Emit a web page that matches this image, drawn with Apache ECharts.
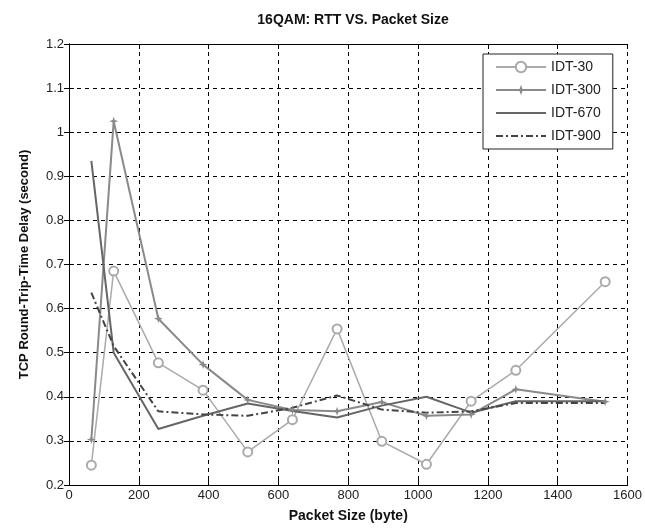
<!DOCTYPE html>
<html><head><meta charset="utf-8">
<script src="https://cdn.jsdelivr.net/npm/echarts@6/dist/echarts.min.js"></script>
<style>html,body{margin:0;padding:0;background:#fff}#c{width:645px;height:532px}</style>
</head><body><div id="c"></div>
<script>
const packetSizes = [64, 128, 256, 384, 512, 640, 768, 896, 1024, 1152, 1280, 1536];
const idt30  = [0.245, 0.685, 0.477, 0.415, 0.275, 0.348, 0.554, 0.299, 0.247, 0.390, 0.460, 0.661];
const idt300 = [0.303, 1.025, 0.577, 0.473, 0.393, 0.370, 0.367, 0.388, 0.357, 0.360, 0.417, 0.389];
const idt670 = [0.935, 0.500, 0.327, 0.357, 0.385, 0.368, 0.353, 0.380, 0.400, 0.364, 0.390, 0.390];
const idt900 = [0.636, 0.515, 0.367, 0.360, 0.357, 0.375, 0.403, 0.371, 0.364, 0.367, 0.386, 0.386];
const xTicks = [0, 200, 400, 600, 800, 1000, 1200, 1400, 1600];
const yTicks = [0.2, 0.3, 0.4, 0.5, 0.6, 0.7, 0.8, 0.9, 1, 1.1, 1.2];
const seriesNames = ['IDT-30', 'IDT-300', 'IDT-670', 'IDT-900'];

const pair = arr => packetSizes.map((x, i) => [x, arr[i]]);
const font = 'Liberation Sans, Arial, sans-serif';
const chart = echarts.init(document.getElementById('c'), null, {renderer: 'canvas'});
const starPath = 'path://M0,-10 L2.5,-2.5 L10,0 L2.5,2.5 L0,10 L-2.5,2.5 L-10,0 L-2.5,-2.5 Z';

const baseX = {
  type: 'value', min: xTicks[0], max: xTicks[xTicks.length - 1], interval: 200,
  axisLine: {show: true, lineStyle: {color: '#000', width: 1}},
  axisTick: {show: true, inside: true, length: 5, lineStyle: {color: '#000'}},
  splitLine: {show: false}
};
const baseY = {
  type: 'value', min: yTicks[0], max: yTicks[yTicks.length - 1], interval: 0.1,
  axisLine: {show: true, lineStyle: {color: '#000', width: 1}},
  axisTick: {show: true, inside: true, length: 5, lineStyle: {color: '#000'}},
  splitLine: {show: false}
};

chart.setOption({
  animation: false,
  backgroundColor: '#fff',
  title: {
    text: '16QAM: RTT VS. Packet Size', left: 348, top: 8, textAlign: 'center',
    textStyle: {fontFamily: font, fontSize: 14, fontWeight: 'bold', color: '#111'}
  },
  grid: {left: 69, right: 17, top: 44, bottom: 47, containLabel: false},
  legend: {
    orient: 'vertical', left: 483, top: 54,
    data: seriesNames,
    backgroundColor: '#fff', borderColor: '#222', borderWidth: 1,
    padding: [6, 12, 6, 12], itemGap: 9, itemWidth: 50, itemHeight: 13,
    textStyle: {fontFamily: font, fontSize: 14, color: '#222'}
  },
  xAxis: [
    Object.assign({}, baseX, {
      position: 'bottom',
      name: 'Packet Size (byte)', nameLocation: 'middle', nameGap: 24,
      nameTextStyle: {fontFamily: font, fontSize: 14, fontWeight: 'bold', color: '#111'},
      axisLabel: {fontFamily: font, fontSize: 13, color: '#222', margin: 4, formatter: v => String(v)},
      splitLine: {show: true, lineStyle: {color: '#000', type: [4, 4], width: 1}}
    }),
    Object.assign({}, baseX, {position: 'top', axisLabel: {show: false}})
  ],
  yAxis: [
    Object.assign({}, baseY, {
      position: 'left',
      name: 'TCP Round-Trip-Time Delay (second)', nameLocation: 'middle', nameGap: 38,
      nameTextStyle: {fontFamily: font, fontSize: 13, fontWeight: 'bold', color: '#111'},
      axisLabel: {fontFamily: font, fontSize: 13, color: '#222', margin: 5},
      splitLine: {show: true, lineStyle: {color: '#000', type: [4, 4], width: 1}}
    }),
    Object.assign({}, baseY, {position: 'right', axisLabel: {show: false}})
  ],
  series: [
    {
      name: 'IDT-30', type: 'line', data: pair(idt30),
      symbol: 'emptyCircle', symbolSize: 9,
      lineStyle: {color: '#aaaaaa', width: 1.5},
      itemStyle: {color: '#aaaaaa', borderColor: '#aaaaaa', borderWidth: 1.5}
    },
    {
      name: 'IDT-300', type: 'line', data: pair(idt300),
      symbol: starPath, symbolSize: 9,
      lineStyle: {color: '#8a8a8a', width: 2},
      itemStyle: {color: '#8a8a8a'}
    },
    {
      name: 'IDT-670', type: 'line', data: pair(idt670),
      symbol: 'circle', showSymbol: false,
      lineStyle: {color: '#666666', width: 2},
      itemStyle: {color: '#666666', opacity: 0}
    },
    {
      name: 'IDT-900', type: 'line', data: pair(idt900),
      symbol: 'circle', showSymbol: false,
      lineStyle: {color: '#444444', width: 2, type: [7, 3, 2, 3]},
      itemStyle: {color: '#444444', opacity: 0}
    }
  ]
});
</script></body></html>
